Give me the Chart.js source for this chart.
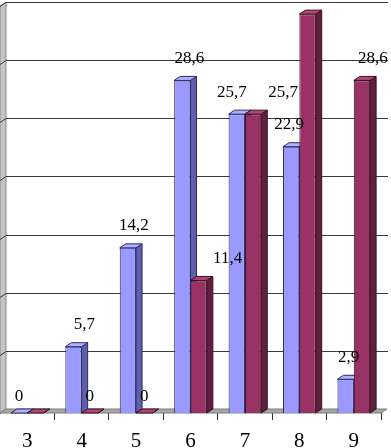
<!DOCTYPE html>
<html>
<head>
<meta charset="utf-8">
<script src="https://cdn.jsdelivr.net/npm/chart.js@4"></script>
<style>
  html, body { margin: 0; padding: 0; background: #fff; }
  #wrap { width: 391px; height: 448px; }
</style>
</head>
<body>
<div id="wrap"><canvas id="chart" width="391" height="448"></canvas></div>
<script>
// chart data
const categories = ["3", "4", "5", "6", "7", "8", "9"];
const seriesBlue = [0, 5.7, 14.2, 28.6, 25.7, 22.9, 2.9];
const seriesPurple = [0, 0, 0, 11.4, 25.7, 34.3, 28.6];
const yMin = 0;
const yMax = 35;
const yStep = 5;

// hand placed value labels (horizontal nudge, px); null = no label
const labelShiftBlue = [0, 11, 6, 7, -5, -2, 3];
const labelShiftPurple = [null, 0, 0, 29, 30, 0, 11];

const DEPTH_X = 6;
const DEPTH_Y = -4;

const faces = [
  { front: "#9999ff", side: "#5f5fae", top: "#b0b0ff", line: "#2a2a66" },
  { front: "#993366", side: "#5e1f40", top: "#ad4778", line: "#3a0f22" },
];

// draws the wall, floor, back gridlines and the side/top faces of each bar
const box3d = {
  id: "box3d",
  beforeDatasetsDraw(chart) {
    const { ctx, chartArea } = chart;
    const y = chart.scales.y;
    const left = chartArea.left, right = chartArea.right;
    const bottom = y.getPixelForValue(yMin);
    const top = y.getPixelForValue(yMax);

    ctx.save();
    // left wall
    ctx.fillStyle = "#c4c4c4";
    ctx.strokeStyle = "#8a8a8a";
    ctx.lineWidth = 1;
    ctx.beginPath();
    ctx.moveTo(left, bottom);
    ctx.lineTo(left, top);
    ctx.lineTo(left + DEPTH_X, top + DEPTH_Y);
    ctx.lineTo(left + DEPTH_X, bottom + DEPTH_Y);
    ctx.closePath();
    ctx.fill();
    ctx.stroke();

    // gridlines on back plane and wall
    ctx.strokeStyle = "#3a3a3a";
    for (let v = yMin; v <= yMax; v += yStep) {
      const py = Math.round(y.getPixelForValue(v)) + 0.5;
      ctx.beginPath();
      ctx.moveTo(left, py);
      ctx.lineTo(left + DEPTH_X, py + DEPTH_Y);
      if (v > yMin) ctx.lineTo(right + DEPTH_X + 1, py + DEPTH_Y);
      ctx.stroke();
    }

    // floor
    ctx.fillStyle = "#a8a8a8";
    ctx.strokeStyle = "#7a7a7a";
    ctx.beginPath();
    ctx.moveTo(left, bottom);
    ctx.lineTo(right, bottom);
    ctx.lineTo(right + DEPTH_X, bottom + DEPTH_Y);
    ctx.lineTo(left + DEPTH_X, bottom + DEPTH_Y);
    ctx.closePath();
    ctx.fill();
    ctx.stroke();

    // side and top faces
    chart.data.datasets.forEach((ds, di) => {
      const meta = chart.getDatasetMeta(di);
      const f = faces[di];
      meta.data.forEach((bar) => {
        const x0 = bar.x - bar.width / 2;
        const x1 = bar.x + bar.width / 2;
        const yt = bar.y;
        const yb = bar.base;
        ctx.lineWidth = 1;
        ctx.strokeStyle = f.line;
        // side
        ctx.fillStyle = f.side;
        ctx.beginPath();
        ctx.moveTo(x1, yb);
        ctx.lineTo(x1, yt);
        ctx.lineTo(x1 + DEPTH_X, yt + DEPTH_Y);
        ctx.lineTo(x1 + DEPTH_X, yb + DEPTH_Y);
        ctx.closePath();
        ctx.fill();
        ctx.stroke();
        // top
        ctx.fillStyle = f.top;
        ctx.beginPath();
        ctx.moveTo(x0, yt);
        ctx.lineTo(x1, yt);
        ctx.lineTo(x1 + DEPTH_X, yt + DEPTH_Y);
        ctx.lineTo(x0 + DEPTH_X, yt + DEPTH_Y);
        ctx.closePath();
        ctx.fill();
        ctx.stroke();
      });
    });
    ctx.restore();
  },
  afterDatasetsDraw(chart) {
    const { ctx } = chart;
    const shifts = [labelShiftBlue, labelShiftPurple];
    ctx.save();
    ctx.font = "17px 'Liberation Serif', serif";
    ctx.fillStyle = "#000";
    ctx.textAlign = "center";
    ctx.textBaseline = "middle";
    chart.data.datasets.forEach((ds, di) => {
      chart.getDatasetMeta(di).data.forEach((bar, i) => {
        const shift = shifts[di][i];
        if (shift === null) return;
        const v = ds.data[i];
        const dy = v === 0 ? -16 : -22;
        ctx.fillText(String(v).replace(".", ","), bar.x + shift, bar.y + dy);
      });
    });
    ctx.restore();
  },
};

new Chart(document.getElementById("chart"), {
  type: "bar",
  data: {
    labels: categories,
    datasets: [
      {
        data: seriesBlue,
        backgroundColor: faces[0].front,
        borderColor: faces[0].line,
        borderWidth: 1,
        categoryPercentage: 0.6,
        barPercentage: 1,
      },
      {
        data: seriesPurple,
        backgroundColor: faces[1].front,
        borderColor: faces[1].line,
        borderWidth: 1,
        categoryPercentage: 0.6,
        barPercentage: 1,
      },
    ],
  },
  plugins: [box3d],
  options: {
    responsive: false,
    animation: false,
    events: [],
    layout: { padding: { left: 0, right: 10, top: 6, bottom: 0 } },
    scales: {
      x: {
        border: { display: false },
        afterFit(scale) {
          scale.height = 35; // keeps the floor where the reference has it
        },
        grid: {
          drawOnChartArea: false,
          drawTicks: true,
          tickLength: 7,
          color: "#333",
        },
        ticks: {
          color: "#000",
          padding: 9,
          font: { family: "'Liberation Serif', serif", size: 21 },
        },
      },
      y: {
        display: false,
        min: yMin,
        max: yMax,
        ticks: { stepSize: yStep },
      },
    },
    plugins: {
      legend: { display: false },
      tooltip: { enabled: false },
    },
  },
});
</script>
</body>
</html>
